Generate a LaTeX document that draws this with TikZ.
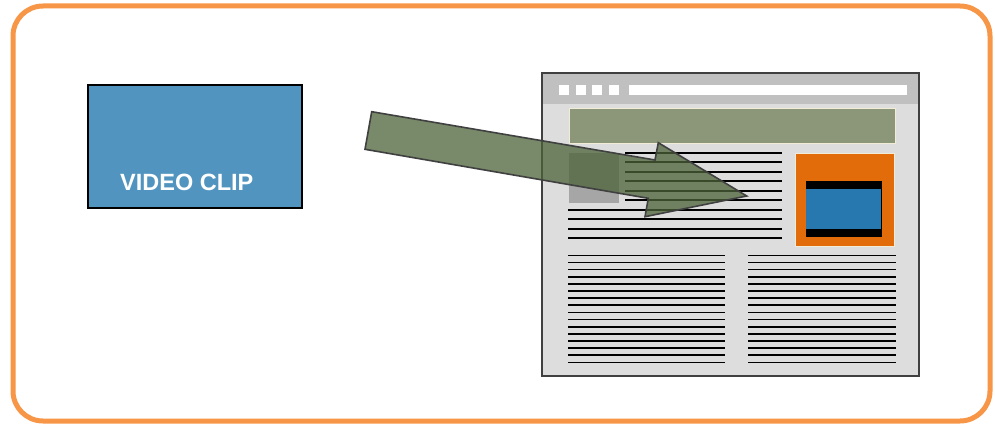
\documentclass[tikz,border=0pt]{standalone}
\usepackage{fontspec}
\newfontfamily\clipfont{Liberation Sans}
\definecolor{frameorange}{RGB}{247,150,70}
\definecolor{clipblue}{RGB}{82,148,192}
\definecolor{winborder}{RGB}{64,64,64}
\definecolor{titlegray}{RGB}{192,192,192}
\definecolor{bodygray}{RGB}{221,221,221}
\definecolor{bannergreen}{RGB}{140,150,120}
\definecolor{cream}{RGB}{240,236,216}
\definecolor{imggray}{RGB}{166,166,166}
\definecolor{boxorange}{RGB}{227,108,10}
\definecolor{vidblue}{RGB}{40,120,176}
\definecolor{arrowgreen}{RGB}{75,99,56}
\tikzset{
  textline/.style={black,line width=1.6pt},
  winpart/.style={inner sep=0pt,outer sep=0pt,anchor=north west},
}
\begin{document}
\begin{tikzpicture}[x=1pt,y=-1pt]
\useasboundingbox (0,0) rectangle (995,425);
% outer frame
\draw[frameorange,line width=5pt,rounded corners=30pt,fill=white] (13,6) rectangle (990,421);
% video clip node
\node[draw=black,line width=1.8pt,fill=clipblue,minimum width=214pt,minimum height=122.7pt,inner sep=0pt,anchor=north west] (clip) at (86.7,84) {};
\node[anchor=base west,inner sep=0pt,text=white] (cliplabel) at (120,190) {\clipfont\bfseries\fontsize{23.5}{28}\selectfont VIDEO CLIP};
% browser window
\node[draw=winborder,line width=2pt,fill=bodygray,minimum width=376.4pt,minimum height=302.4pt,winpart] (win) at (542.3,73.3) {};
\fill[titlegray] (543,74) rectangle (918,104);
\draw[winborder,line width=2pt] (win.north west) rectangle (win.south east);
\foreach \x in {559,576,592,609}{
  \fill[white] (\x,85) rectangle ++(10,9.7);
}
\node[fill=white,minimum width=278pt,minimum height=9.7pt,winpart] (urlbar) at (629,85) {};
\node[fill=bannergreen,draw=cream,line width=1pt,minimum width=326pt,minimum height=34pt,winpart] (banner) at (569,109) {};
\node[fill=imggray,minimum width=50pt,minimum height=50pt,winpart] (img) at (569,153) {};
\foreach \i in {0,...,5}{
  \draw[textline] (625,152.7+\i*9.5) -- (781.7,152.7+\i*9.5);
}
\foreach \i in {6,...,9}{
  \draw[textline] (568,152.7+\i*9.5) -- (781.7,152.7+\i*9.5);
}
\node[fill=boxorange,draw=cream,line width=1pt,minimum width=99.3pt,minimum height=93.7pt,winpart] (vidbox) at (795,153) {};
\node[fill=black,minimum width=76pt,minimum height=56pt,winpart] (vidframe) at (806,181) {};
\node[fill=vidblue,minimum width=75pt,minimum height=40pt,winpart] (vidpic) at (806,189) {};
\foreach \i in {0,...,15}{
  \draw[textline] (568,255.3+\i*7.14) -- (725,255.3+\i*7.14);
  \draw[textline] (748,255.3+\i*7.14) -- (895.7,255.3+\i*7.14);
}
% block arrow
\coordinate (a1) at (371.7,111.7);
\coordinate (a2) at (655,160);
\coordinate (a3) at (658.3,142.7);
\coordinate (tip) at (746.7,196);
\coordinate (a5) at (645,216.7);
\coordinate (a6) at (648.3,198.3);
\coordinate (a7) at (365,149.3);
\draw[winborder,line width=1.6pt,fill=arrowgreen,fill opacity=0.75,line join=miter]
  (a1) -- (a2) -- (a3) -- (tip) -- (a5) -- (a6) -- (a7) -- cycle;
\end{tikzpicture}
\end{document}
